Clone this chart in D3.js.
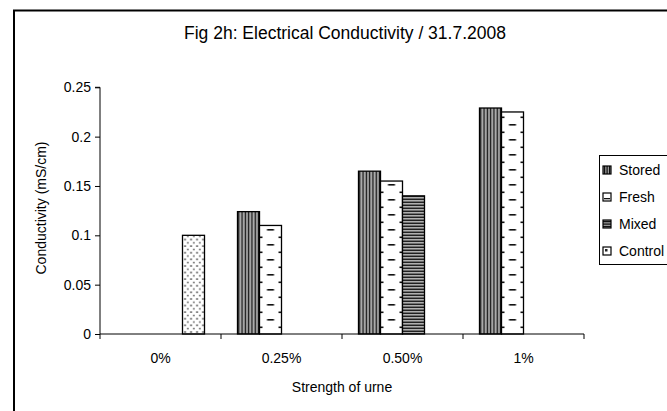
<!DOCTYPE html>
<html><head><meta charset="utf-8">
<script src="https://cdn.jsdelivr.net/npm/d3@7"></script>
<style>body{margin:0;background:#fff}svg{display:block;font-family:"Liberation Sans",Arial,sans-serif}</style>
</head><body><svg id="c" width="667" height="411"></svg>
<script>
const categories = ["0%", "0.25%", "0.50%", "1%"];
const seriesNames = ["Stored", "Fresh", "Mixed", "Control"];
const stored  = [0, 0.124, 0.165, 0.229];
const fresh   = [0, 0.110, 0.155, 0.225];
const mixed   = [0, 0, 0.140, 0];
const control = [0.100, 0, 0, 0];
const yTicks = [0, 0.05, 0.1, 0.15, 0.2, 0.25];
const yTickLabels = ["0", "0.05", "0.1", "0.15", "0.2", "0.25"];
const titleText = "Fig 2h: Electrical Conductivity / 31.7.2008";
const yTitle = "Conductivity (mS/cm)";
const xTitle = "Strength of urne";

const values = [stored, fresh, mixed, control];
const svg = d3.select("#c");
const defs = svg.append("defs");
const FS = 14;

// patterns
const pS = defs.append("pattern").attr("id","p0").attr("patternUnits","userSpaceOnUse").attr("width",3.3).attr("height",4);
pS.append("rect").attr("width",3.3).attr("height",4).attr("fill","#b0b0b0");
pS.append("rect").attr("x",0.6).attr("width",1.3).attr("height",4).attr("fill","#111");
const pF = defs.append("pattern").attr("id","p1").attr("patternUnits","userSpaceOnUse").attr("width",22).attr("height",15);
pF.append("rect").attr("width",22).attr("height",15).attr("fill","#fff");
pF.append("rect").attr("x",7.5).attr("y",4).attr("width",7).attr("height",1.6).attr("fill","#111");
pF.append("rect").attr("x",-4).attr("y",11.5).attr("width",7).attr("height",1.6).attr("fill","#111");
pF.append("rect").attr("x",19).attr("y",11.5).attr("width",7).attr("height",1.6).attr("fill","#111");
const pM = defs.append("pattern").attr("id","p2").attr("patternUnits","userSpaceOnUse").attr("width",4).attr("height",3);
pM.append("rect").attr("width",4).attr("height",3).attr("fill","#b0b0b0");
pM.append("rect").attr("y",0.6).attr("width",4).attr("height",1.3).attr("fill","#111");
const pC = defs.append("pattern").attr("id","p3").attr("patternUnits","userSpaceOnUse").attr("width",6).attr("height",6.6);
pC.append("rect").attr("width",6).attr("height",6.6).attr("fill","#fff");
[[1.8,1.2],[4.8,4.5]].forEach(([x,y])=>pC.append("rect").attr("x",x).attr("y",y).attr("width",1.5).attr("height",1.5).attr("fill","#222"));

// legend swatch patterns (small)
const lp = [
  g=>{g.append("rect").attr("width",8).attr("height",8).attr("fill","#999");[1,3.5,6].forEach(x=>g.append("rect").attr("x",x).attr("width",1.2).attr("height",8).attr("fill","#111"));},
  g=>{g.append("rect").attr("width",8).attr("height",8).attr("fill","#fff");g.append("rect").attr("x",1).attr("y",5).attr("width",6).attr("height",1.3).attr("fill","#111");},
  g=>{g.append("rect").attr("width",8).attr("height",8).attr("fill","#999");[1,3.5,6].forEach(y=>g.append("rect").attr("y",y).attr("width",8).attr("height",1.2).attr("fill","#111"));},
  g=>{g.append("rect").attr("width",8).attr("height",8).attr("fill","#fff");g.append("rect").attr("x",2).attr("y",2).attr("width",2.5).attr("height",2.5).attr("fill","#222");}
];

// outer frame
svg.append("rect").attr("x",14).attr("y",10.5).attr("width",700).attr("height",450)
  .attr("fill","#fff").attr("stroke","#000").attr("stroke-width",2);

const m = {left:100, right:584, top:87.3, bottom:334};
const x0 = d3.scaleBand().domain(categories).range([m.left, m.right]).paddingInner(0).paddingOuter(0);
const bw = x0.bandwidth()/5.5;
const x1 = d3.scaleBand().domain(seriesNames).range([0, 4*bw]);
const y = d3.scaleLinear().domain([0,0.25]).range([m.bottom, m.top]);

// bars
const data = [];
categories.forEach((c,ci)=>seriesNames.forEach((s,si)=>{ if(values[si][ci]>0) data.push({c,s,si,v:values[si][ci]}); }));
const bars = svg.append("g").selectAll("g").data(data).join("g")
  .attr("transform", d=>`translate(${x0(d.c)+0.75*bw+x1(d.s)},0)`);
bars.append("rect").attr("x",0).attr("y",d=>y(d.v)).attr("width",bw).attr("height",d=>y(0)-y(d.v))
  .attr("fill",d=>`url(#p${d.si})`).attr("stroke","#000").attr("stroke-width",1.3);

// y axis
const yAxis = d3.axisLeft(y).tickValues(yTicks).tickFormat((d,i)=>yTickLabels[i]).tickSize(5).tickPadding(4);
const ya = svg.append("g").attr("transform",`translate(${m.left},0)`).call(yAxis);
ya.select(".domain").attr("stroke","#000").attr("d",`M-5,${y(0.25)}H0V${y(0)}`);
ya.selectAll("text").attr("font-size",FS).attr("fill","#000").attr("font-family","Liberation Sans, Arial, sans-serif");

// x axis
const xa = svg.append("g").attr("transform",`translate(0,${m.bottom})`);
xa.append("path").attr("d",`M${m.left},0H${m.right}`).attr("stroke","#000");
const bounds = categories.map(c=>x0(c)).concat([m.right]);
xa.selectAll("line").data(bounds).join("line").attr("x1",d=>d).attr("x2",d=>d).attr("y1",0).attr("y2",5).attr("stroke","#000");
xa.selectAll("text").data(categories).join("text").attr("x",d=>x0(d)+x0.bandwidth()/2).attr("y",29)
  .attr("text-anchor","middle").attr("font-size",FS).text(d=>d);

// titles
svg.append("text").attr("x",345).attr("y",39).attr("text-anchor","middle").attr("font-size",17.5).text(titleText);
svg.append("text").attr("x",342).attr("y",392).attr("text-anchor","middle").attr("font-size",FS).text(xTitle);
svg.append("text").attr("transform","translate(46,208) rotate(-90)").attr("text-anchor","middle").attr("font-size",FS).text(yTitle);

// legend
svg.append("rect").attr("x",599.5).attr("y",155.5).attr("width",100).attr("height",109).attr("fill","#fff").attr("stroke","#000");
const lg = svg.append("g").selectAll("g").data(seriesNames).join("g")
  .attr("transform",(d,i)=>`translate(603,${166+i*27})`);
lg.each(function(d,i){ const g=d3.select(this); lp[i](g); g.append("rect").attr("width",8).attr("height",8).attr("fill","none").attr("stroke","#000").attr("stroke-width",1.2); });
lg.append("text").attr("x",16).attr("y",9).attr("font-size",FS).text(d=>d);
</script></body></html>
